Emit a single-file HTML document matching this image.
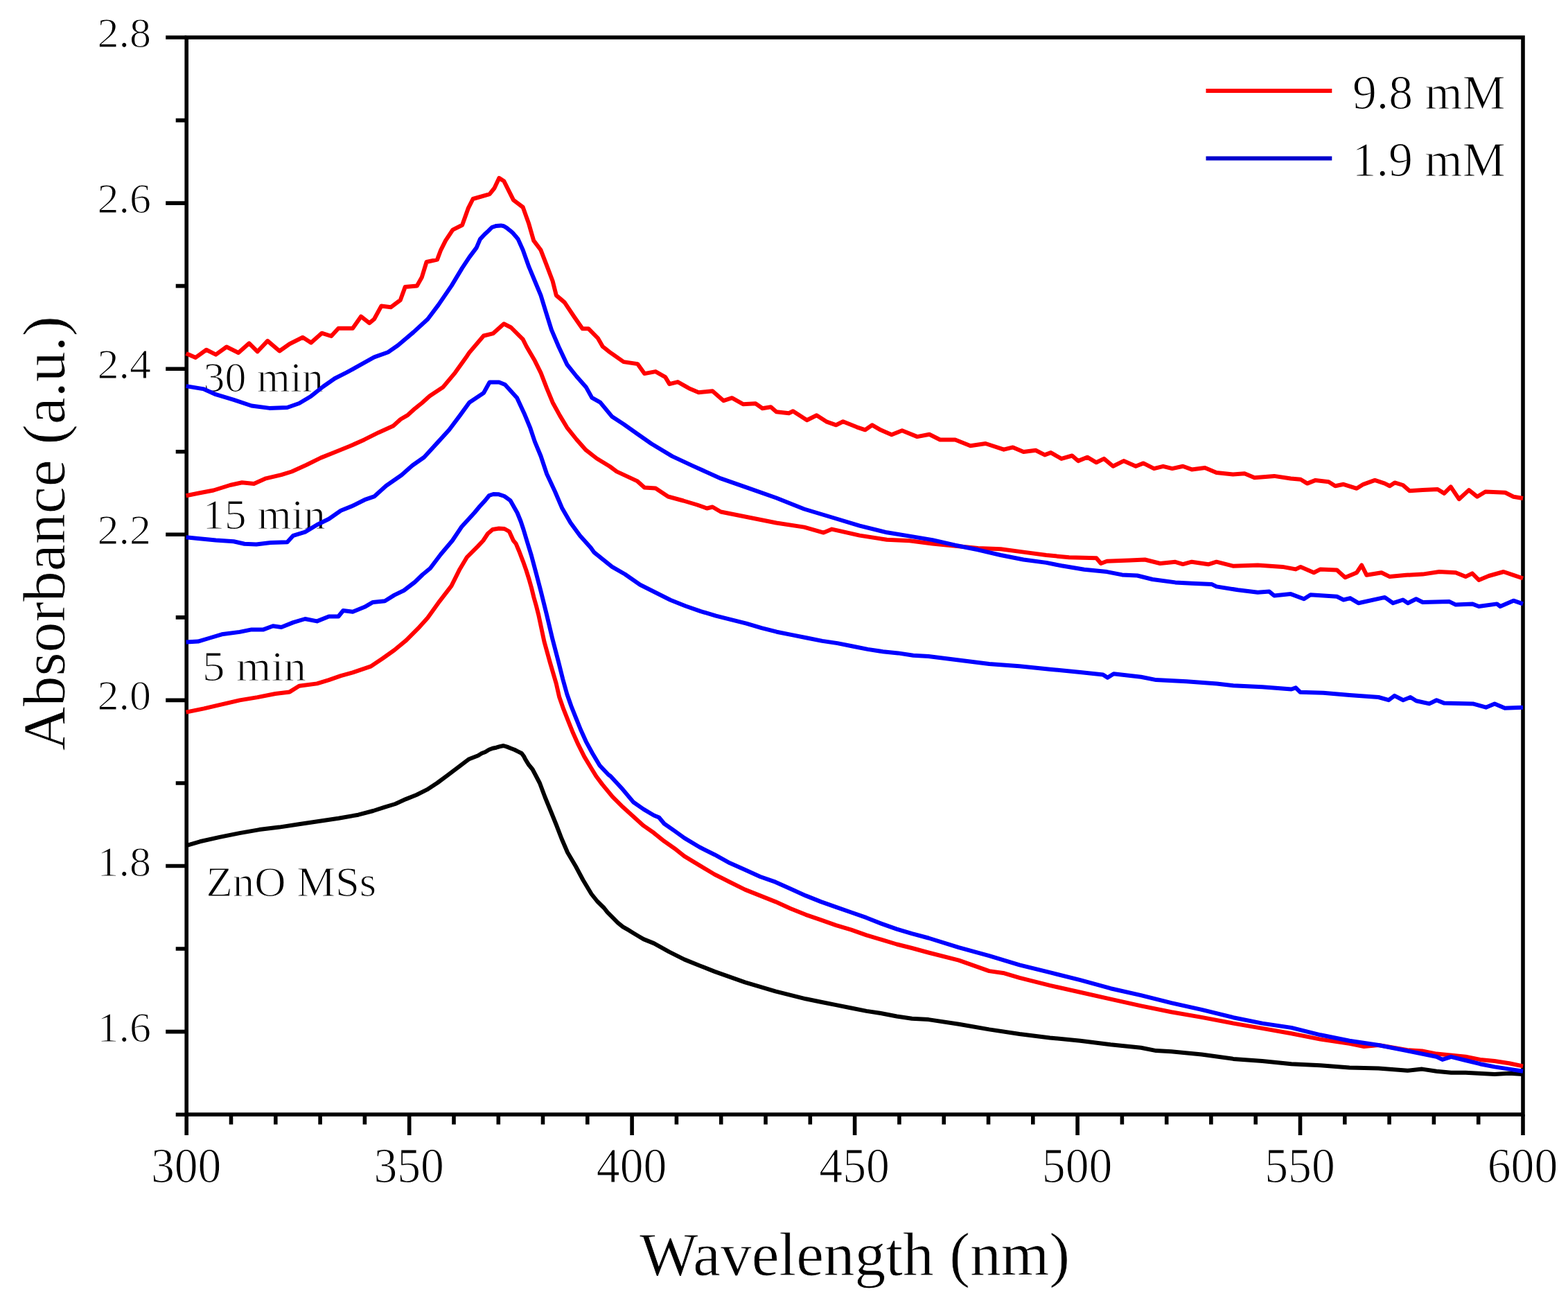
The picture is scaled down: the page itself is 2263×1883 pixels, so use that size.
<!DOCTYPE html>
<html><head><meta charset="utf-8"><title>Absorbance spectra</title>
<style>html,body{margin:0;padding:0;background:#fff;overflow:hidden;width:2263px;height:1883px;}svg{display:block;}text{font-family:"Liberation Serif","DejaVu Serif",serif;fill:#000;}</style></head><body>
<svg width="2263" height="1883" viewBox="0 0 2263 1883">
<rect width="2263" height="1883" fill="#fff"/>
<g stroke="#000" stroke-width="5.6" fill="none" stroke-linecap="butt">
<rect x="269.2" y="54.0" width="1928.8" height="1554.1"/>
<path d="M239.2,54.0H269.2 M253.7,173.6H269.2 M239.2,293.1H269.2 M253.7,412.6H269.2 M239.2,532.2H269.2 M253.7,651.8H269.2 M239.2,771.3H269.2 M253.7,890.9H269.2 M239.2,1010.4H269.2 M253.7,1130.0H269.2 M239.2,1249.5H269.2 M253.7,1369.0H269.2 M239.2,1488.6H269.2 M253.7,1608.2H269.2 M269.2,1608.1V1638.1 M333.5,1608.1V1622.6 M397.8,1608.1V1622.6 M462.1,1608.1V1622.6 M526.4,1608.1V1622.6 M590.7,1608.1V1638.1 M655.0,1608.1V1622.6 M719.3,1608.1V1622.6 M783.5,1608.1V1622.6 M847.8,1608.1V1622.6 M912.1,1608.1V1638.1 M976.4,1608.1V1622.6 M1040.7,1608.1V1622.6 M1105.0,1608.1V1622.6 M1169.3,1608.1V1622.6 M1233.6,1608.1V1638.1 M1297.9,1608.1V1622.6 M1362.2,1608.1V1622.6 M1426.5,1608.1V1622.6 M1490.8,1608.1V1622.6 M1555.1,1608.1V1638.1 M1619.4,1608.1V1622.6 M1683.7,1608.1V1622.6 M1747.9,1608.1V1622.6 M1812.2,1608.1V1622.6 M1876.5,1608.1V1638.1 M1940.8,1608.1V1622.6 M2005.1,1608.1V1622.6 M2069.4,1608.1V1622.6 M2133.7,1608.1V1622.6 M2198.0,1608.1V1638.1"/>
</g>
<g font-size="62" text-anchor="end" stroke="#fff" stroke-width="1.2">
<text x="218" y="68.0">2.8</text>
<text x="218" y="307.1">2.6</text>
<text x="218" y="546.2">2.4</text>
<text x="218" y="785.3">2.2</text>
<text x="218" y="1024.4">2.0</text>
<text x="218" y="1263.5">1.8</text>
<text x="218" y="1502.6">1.6</text>
</g>
<g font-size="72" text-anchor="middle" stroke="#fff" stroke-width="1.2">
<text transform="translate(268.7,1706) scale(0.94,1)">300</text>
<text transform="translate(590.2,1706) scale(0.94,1)">350</text>
<text transform="translate(911.6,1706) scale(0.94,1)">400</text>
<text transform="translate(1233.1,1706) scale(0.94,1)">450</text>
<text transform="translate(1554.6,1706) scale(0.94,1)">500</text>
<text transform="translate(1876.0,1706) scale(0.94,1)">550</text>
<text transform="translate(2197.5,1706) scale(0.94,1)">600</text>
</g>
<text x="1233.5" y="1840" font-size="89" text-anchor="middle" stroke="#fff" stroke-width="0.8" textLength="621" lengthAdjust="spacingAndGlyphs">Wavelength (nm)</text>
<text transform="translate(93.3,769.5) rotate(-90)" font-size="86.5" text-anchor="middle" stroke="#fff" stroke-width="0.8" textLength="627" lengthAdjust="spacingAndGlyphs">Absorbance (a.u.)</text>
<g font-size="61" stroke="#fff" stroke-width="1.2">
<text x="293.5" y="564.5" textLength="173.4" lengthAdjust="spacingAndGlyphs">30 min</text>
<text x="292.5" y="763" textLength="177.3" lengthAdjust="spacingAndGlyphs">15 min</text>
<text x="292" y="982" textLength="150" lengthAdjust="spacingAndGlyphs">5 min</text>
<text x="297.5" y="1292.5" textLength="245.7" lengthAdjust="spacingAndGlyphs">ZnO MSs</text>
</g>
<g stroke-width="6" stroke-linecap="butt">
<path stroke="#f00" d="M1740.5,131H1922.3"/>
<path stroke="#00c" d="M1740.5,228.5H1922.3"/>
</g>
<g font-size="69" stroke="#fff" stroke-width="1.2">
<text x="1952" y="156.5" textLength="220.7" lengthAdjust="spacingAndGlyphs">9.8 mM</text>
<text x="1951.5" y="253.5" textLength="221.3" lengthAdjust="spacingAndGlyphs">1.9 mM</text>
</g>
<g fill="none" stroke-width="6.0" stroke-linejoin="round" stroke-linecap="butt">
<path stroke="#000" d="M268.6,1220.0 L271.4,1219.3 L288.6,1214.3 L317.1,1207.9 L345.7,1202.1 L374.3,1197.1 L402.9,1193.6 L431.4,1189.3 L460.0,1185.0 L488.6,1180.7 L517.1,1175.7 L538.6,1170.0 L555.2,1164.6 L570.5,1160.0 L585.7,1153.1 L601.0,1147.0 L616.2,1139.4 L631.4,1129.5 L646.7,1118.1 L661.9,1106.7 L677.1,1095.2 L690.0,1090.2 L695.2,1087.0 L700.5,1085.0 L705.7,1081.8 L711.0,1079.7 L716.2,1078.7 L721.4,1077.1 L726.7,1076.0 L731.9,1077.6 L737.1,1079.7 L742.4,1081.8 L747.6,1084.4 L752.9,1087.0 L756.0,1091.2 L758.1,1095.4 L760.7,1099.6 L763.3,1103.8 L768.5,1110.0 L773.8,1120.0 L779.0,1130.0 L786.5,1150.0 L794.7,1170.0 L802.8,1190.0 L810.5,1210.0 L819.1,1230.0 L830.9,1250.0 L841.6,1270.0 L853.6,1290.0 L862.0,1300.5 L871.7,1310.0 L876.7,1316.4 L884.2,1323.9 L891.6,1331.3 L899.0,1337.3 L906.5,1341.7 L913.9,1346.2 L921.4,1350.7 L928.8,1355.1 L943.7,1361.1 L965.7,1373.4 L987.6,1384.4 L1009.5,1393.2 L1031.4,1401.9 L1053.3,1409.6 L1075.2,1417.3 L1097.2,1423.8 L1119.1,1430.4 L1141.0,1435.9 L1162.9,1441.3 L1184.8,1445.7 L1206.7,1450.1 L1228.6,1454.5 L1250.5,1458.9 L1272.4,1462.2 L1294.3,1466.5 L1316.2,1469.8 L1340.0,1471.1 L1383.8,1477.7 L1427.6,1485.4 L1471.4,1492.0 L1515.2,1497.4 L1559.1,1501.8 L1602.9,1507.3 L1646.7,1511.7 L1668.6,1516.1 L1690.5,1517.2 L1734.3,1521.5 L1780.0,1527.9 L1821.9,1531.0 L1863.8,1535.2 L1905.7,1537.3 L1947.6,1540.5 L1989.5,1541.5 L2031.4,1544.7 L2052.4,1542.6 L2073.3,1545.7 L2094.3,1547.8 L2115.2,1547.8 L2157.1,1549.9 L2178.1,1548.8 L2198.0,1549.9"/>
<path stroke="#f00" d="M268.6,1027.6 L294.4,1022.4 L320.1,1016.4 L345.9,1010.4 L371.6,1006.1 L397.4,1001.0 L418.0,998.4 L431.8,989.8 L457.5,986.4 L474.7,981.2 L491.9,975.2 L509.1,970.3 L534.8,961.7 L552.0,950.3 L569.2,938.0 L586.3,923.9 L603.5,906.7 L617.2,891.6 L634.4,867.6 L651.5,845.3 L663.6,821.2 L673.9,804.0 L689.3,788.6 L697.4,780.0 L704.0,770.0 L711.0,764.0 L720.0,762.5 L728.0,763.0 L735.0,767.0 L740.9,780.0 L744.6,784.4 L749.5,796.0 L754.9,810.1 L759.5,823.0 L763.6,836.0 L767.0,848.0 L770.4,861.7 L774.0,874.5 L777.3,887.5 L785.5,926.0 L794.1,956.9 L802.7,986.1 L807.2,1005.8 L813.2,1022.9 L820.0,1040.1 L826.9,1057.3 L834.6,1074.4 L843.2,1091.6 L853.5,1108.8 L860.4,1120.0 L869.3,1131.9 L884.2,1149.8 L899.0,1164.6 L913.9,1178.0 L928.8,1191.4 L943.7,1201.8 L958.6,1213.8 L973.5,1224.2 L987.6,1235.4 L1009.5,1248.6 L1031.4,1261.7 L1053.3,1272.7 L1075.2,1283.6 L1097.2,1292.4 L1119.1,1301.1 L1141.0,1311.0 L1162.9,1319.8 L1184.8,1327.4 L1206.7,1335.1 L1228.6,1341.7 L1250.5,1349.3 L1272.4,1355.9 L1294.3,1362.5 L1316.2,1368.0 L1340.0,1374.5 L1383.8,1385.7 L1427.6,1401.1 L1449.5,1404.3 L1471.4,1410.9 L1493.3,1416.4 L1515.2,1421.9 L1559.1,1431.7 L1602.9,1441.6 L1646.7,1451.4 L1690.5,1460.2 L1734.3,1467.9 L1780.0,1476.6 L1821.9,1483.9 L1863.8,1491.2 L1905.7,1499.6 L1947.6,1505.9 L1968.6,1510.1 L1989.5,1508.0 L2031.4,1515.3 L2052.4,1516.4 L2073.3,1520.6 L2115.2,1524.8 L2136.2,1528.9 L2157.1,1531.0 L2178.1,1534.2 L2198.0,1538.4"/>
<path stroke="#00f" d="M268.6,926.5 L285.8,925.6 L302.9,920.5 L320.1,915.3 L345.9,911.9 L363.1,908.4 L380.2,908.4 L394.0,903.3 L406.0,905.0 L423.2,898.1 L440.3,893.0 L457.5,896.4 L474.7,889.5 L488.4,889.5 L495.3,881.0 L509.1,882.7 L526.2,875.8 L538.2,868.9 L555.4,867.2 L569.2,858.6 L582.9,852.0 L598.6,840.0 L610.0,829.0 L620.9,820.0 L636.0,800.0 L652.9,780.0 L666.3,760.0 L684.6,740.0 L692.5,730.5 L700.2,722.1 L706.0,715.0 L712.0,713.0 L720.0,713.3 L728.0,716.0 L736.4,722.1 L746.6,740.0 L751.5,752.0 L755.5,764.0 L760.3,780.0 L766.9,801.5 L773.8,827.3 L780.3,852.1 L788.9,886.5 L797.5,922.6 L806.1,955.2 L812.3,980.0 L818.3,1001.5 L824.3,1018.6 L831.2,1035.8 L838.1,1053.0 L845.8,1070.1 L855.2,1087.3 L865.5,1104.5 L877.6,1117.3 L881.2,1120.0 L899.0,1139.3 L913.9,1157.2 L928.8,1167.6 L943.7,1176.5 L951.1,1179.5 L958.6,1188.5 L973.5,1198.9 L987.6,1209.1 L1009.5,1222.3 L1031.4,1233.2 L1053.3,1245.3 L1075.2,1255.1 L1097.2,1265.0 L1119.1,1272.7 L1141.0,1282.5 L1162.9,1292.4 L1184.8,1301.1 L1206.7,1308.8 L1228.6,1316.5 L1250.5,1324.2 L1272.4,1332.9 L1294.3,1340.6 L1316.2,1347.2 L1340.0,1353.5 L1383.8,1367.1 L1427.6,1379.1 L1471.4,1392.3 L1515.2,1403.2 L1559.1,1414.2 L1602.9,1426.2 L1646.7,1436.1 L1690.5,1447.1 L1734.3,1456.9 L1780.0,1468.2 L1821.9,1476.6 L1863.8,1482.9 L1905.7,1493.3 L1947.6,1501.7 L1989.5,1508.0 L2031.4,1516.4 L2073.3,1524.8 L2081.7,1528.9 L2094.3,1524.8 L2115.2,1530.0 L2136.2,1535.2 L2157.1,1539.4 L2178.1,1542.6 L2198.0,1545.7"/>
<path stroke="#00f" d="M268.6,775.3 L285.8,777.0 L311.5,779.6 L337.3,781.3 L352.8,784.8 L369.9,785.6 L390.5,783.0 L414.6,782.2 L423.2,772.8 L440.3,767.6 L457.5,757.3 L474.7,748.7 L491.9,736.7 L509.1,729.8 L526.2,721.2 L540.0,716.4 L557.2,701.0 L579.5,685.5 L595.0,671.8 L612.1,659.7 L631.0,639.1 L648.2,620.2 L663.7,599.6 L677.4,580.7 L698.0,567.0 L706.6,551.5 L720.3,551.5 L728.9,555.0 L746.1,573.9 L756.4,596.2 L765.0,616.8 L771.9,637.4 L780.5,658.0 L789.1,683.8 L801.1,709.5 L811.4,733.6 L823.4,754.2 L837.1,773.1 L852.6,790.3 L857.6,797.2 L883.4,817.8 L901.9,828.5 L923.8,843.8 L945.7,854.8 L967.6,865.7 L989.5,874.5 L1011.4,882.1 L1033.3,888.7 L1055.2,894.2 L1077.2,899.7 L1099.1,906.2 L1121.0,911.7 L1142.9,916.1 L1164.8,920.5 L1186.7,924.9 L1208.6,928.1 L1230.5,932.5 L1252.4,936.9 L1274.3,940.2 L1296.2,942.4 L1318.1,945.7 L1340.0,947.1 L1383.8,952.6 L1427.6,958.0 L1471.4,961.3 L1515.2,965.7 L1559.1,970.1 L1591.9,973.4 L1598.5,977.8 L1607.3,972.3 L1646.7,976.7 L1668.6,981.1 L1712.4,983.2 L1756.2,986.5 L1780.0,989.2 L1821.9,991.3 L1863.8,994.5 L1870.1,992.4 L1876.4,998.7 L1909.9,999.7 L1947.6,1002.9 L1989.5,1006.0 L2004.2,1010.2 L2012.6,1003.9 L2025.1,1010.2 L2035.6,1006.0 L2044.0,1011.2 L2062.8,1015.4 L2073.3,1010.2 L2083.8,1014.4 L2125.7,1015.4 L2144.6,1020.7 L2157.1,1015.4 L2171.8,1021.7 L2198.0,1020.7"/>
<path stroke="#f00" d="M268.6,715.2 L285.8,711.8 L308.1,707.5 L332.1,700.0 L349.3,696.3 L366.5,698.0 L383.7,690.3 L406.0,685.2 L421.0,680.5 L441.9,671.0 L462.9,660.6 L483.8,652.2 L504.8,643.8 L525.7,634.4 L546.7,623.9 L567.6,614.5 L578.1,605.0 L588.6,598.8 L599.1,589.3 L609.5,581.0 L620.0,571.5 L639.6,558.4 L656.8,537.8 L674.0,513.7 L677.4,508.6 L698.0,484.5 L711.8,481.1 L727.2,467.3 L737.5,472.5 L754.7,489.7 L759.9,500.0 L771.9,520.6 L780.5,537.8 L789.1,560.1 L797.6,580.7 L808.0,599.6 L818.3,616.8 L832.0,634.0 L845.7,649.4 L861.2,661.5 L880.1,673.0 L890.0,680.4 L920.1,694.4 L930.1,703.4 L946.1,704.4 L964.2,716.5 L986.2,722.5 L1006.3,728.5 L1020.3,733.5 L1028.3,731.5 L1040.3,738.5 L1080.4,746.5 L1120.5,754.5 L1160.6,760.6 L1188.6,768.6 L1200.6,763.6 L1240.7,772.6 L1280.0,778.8 L1312.9,780.2 L1345.7,784.5 L1378.6,787.8 L1411.4,791.1 L1444.3,792.2 L1477.2,796.6 L1510.0,801.0 L1542.9,804.3 L1582.3,805.3 L1588.9,813.0 L1597.6,809.7 L1630.5,808.6 L1652.4,807.5 L1674.3,813.0 L1696.2,810.8 L1707.2,814.1 L1720.0,810.7 L1743.8,814.3 L1755.7,810.7 L1779.5,816.7 L1815.2,815.5 L1851.0,817.9 L1870.0,821.4 L1877.1,817.9 L1896.2,826.2 L1905.7,821.4 L1929.5,822.6 L1941.4,833.3 L1958.1,826.2 L1965.2,815.5 L1972.4,829.8 L1993.8,826.2 L2005.7,832.1 L2029.5,829.8 L2053.3,828.6 L2077.1,825.0 L2101.0,826.2 L2115.2,832.1 L2124.8,827.4 L2134.3,836.9 L2148.6,831.0 L2170.0,825.0 L2184.3,829.8 L2198.0,834.5"/>
<path stroke="#00f" d="M268.6,557.1 L294.3,561.4 L311.5,569.2 L337.3,576.9 L363.0,585.5 L388.8,588.9 L414.6,588.0 L431.7,582.0 L448.9,571.7 L466.1,558.0 L483.3,546.0 L500.4,537.4 L517.6,527.9 L540.0,515.4 L560.0,508.2 L574.4,498.2 L596.7,479.4 L617.3,460.5 L632.8,439.9 L651.6,412.4 L667.1,386.6 L677.4,371.1 L687.7,357.4 L692.9,345.1 L699.3,338.3 L704.9,333.1 L710.0,328.0 L716.4,325.9 L722.9,325.4 L727.1,326.3 L731.4,328.9 L735.7,332.3 L740.0,336.1 L744.3,340.9 L747.7,345.1 L754.7,360.8 L763.3,384.9 L771.9,405.5 L780.5,426.1 L787.3,448.4 L795.9,475.9 L806.2,500.0 L818.3,525.8 L832.0,543.0 L845.7,558.4 L854.3,573.9 L866.3,580.7 L883.5,601.3 L900.0,612.0 L920.1,626.3 L940.1,640.3 L970.2,658.4 L1000.2,672.4 L1040.3,690.4 L1080.4,704.4 L1120.5,718.5 L1160.6,734.5 L1200.6,746.5 L1240.7,758.6 L1280.0,768.3 L1312.9,773.6 L1345.7,779.1 L1378.6,786.7 L1411.4,793.3 L1444.3,801.0 L1477.2,807.5 L1510.0,811.9 L1531.9,816.3 L1564.8,821.8 L1597.6,825.1 L1619.5,829.4 L1641.4,830.5 L1663.4,836.0 L1696.2,840.4 L1720.0,841.7 L1748.6,842.9 L1755.7,846.4 L1786.7,851.2 L1815.2,854.8 L1831.9,853.6 L1839.0,859.5 L1862.9,857.1 L1881.9,864.3 L1891.4,858.3 L1929.5,860.7 L1939.0,865.5 L1948.6,863.1 L1960.5,870.2 L1998.6,861.9 L2010.5,870.2 L2024.8,865.5 L2031.9,870.2 L2043.8,864.3 L2053.3,869.0 L2091.4,867.9 L2101.0,872.6 L2124.8,871.4 L2134.3,875.0 L2160.5,871.4 L2165.2,875.0 L2184.3,866.7 L2198.0,871.4"/>
<path stroke="#f00" d="M268.6,509.9 L282.3,515.9 L297.8,504.8 L311.5,511.6 L327.0,500.5 L344.1,509.0 L359.6,495.3 L371.6,507.3 L386.2,491.9 L403.4,506.5 L418.0,496.2 L436.9,486.7 L448.9,494.5 L464.4,480.7 L478.1,485.0 L488.4,473.8 L509.0,473.8 L521.0,456.7 L533.1,466.1 L540.0,460.5 L550.3,441.6 L564.0,443.3 L577.8,433.0 L584.7,414.1 L601.8,412.4 L608.7,400.3 L615.6,378.0 L631.0,374.6 L636.2,360.8 L643.1,347.1 L653.4,331.6 L667.1,324.8 L675.7,300.7 L682.6,287.0 L706.6,280.1 L713.5,271.5 L720.3,256.9 L727.2,261.2 L741.0,288.7 L754.7,299.0 L763.3,323.1 L770.2,347.1 L780.5,360.8 L789.1,383.2 L797.6,405.5 L802.8,426.1 L814.8,436.4 L828.6,457.0 L840.6,474.2 L849.2,474.2 L862.9,488.0 L869.8,500.0 L880.0,508.1 L900.0,522.1 L920.1,525.1 L930.1,539.1 L946.1,536.1 L960.2,544.1 L966.2,554.1 L978.2,551.1 L994.2,560.2 L1008.3,566.2 L1028.3,564.2 L1044.3,578.2 L1056.4,574.2 L1072.4,583.2 L1090.4,582.2 L1100.4,589.2 L1112.5,587.2 L1120.5,594.2 L1138.5,596.2 L1144.5,593.2 L1164.6,606.3 L1178.6,599.2 L1192.6,608.3 L1206.7,613.3 L1216.7,608.3 L1236.7,616.3 L1248.7,620.3 L1258.8,613.3 L1270.8,620.3 L1286.8,627.3 L1301.9,621.3 L1323.8,630.1 L1341.3,626.8 L1356.7,634.5 L1378.6,634.5 L1400.5,643.2 L1422.4,640.0 L1448.7,648.7 L1461.8,645.4 L1477.2,652.0 L1494.7,649.8 L1507.8,656.4 L1516.6,653.1 L1531.9,661.9 L1547.3,657.5 L1556.0,665.1 L1569.2,659.7 L1582.3,667.3 L1593.3,661.9 L1606.4,672.8 L1621.7,665.1 L1639.2,672.8 L1650.2,668.4 L1665.5,676.1 L1678.7,672.8 L1691.8,676.1 L1707.2,672.8 L1720.0,677.4 L1739.0,675.0 L1755.7,682.1 L1779.5,684.5 L1796.2,683.3 L1810.5,689.3 L1839.0,686.9 L1862.9,690.5 L1877.1,691.7 L1886.7,697.6 L1898.6,692.9 L1917.6,695.2 L1927.1,701.2 L1939.0,698.8 L1958.1,704.8 L1967.6,698.8 L1984.3,692.9 L1998.6,697.6 L2005.7,701.2 L2012.9,696.4 L2024.8,700.0 L2034.3,708.3 L2053.3,707.1 L2074.8,706.0 L2084.3,711.9 L2093.8,702.4 L2105.7,720.2 L2120.0,707.1 L2131.9,716.7 L2143.8,709.5 L2172.4,710.7 L2184.3,716.7 L2198.0,719.0"/>
</g>
</svg></body></html>
